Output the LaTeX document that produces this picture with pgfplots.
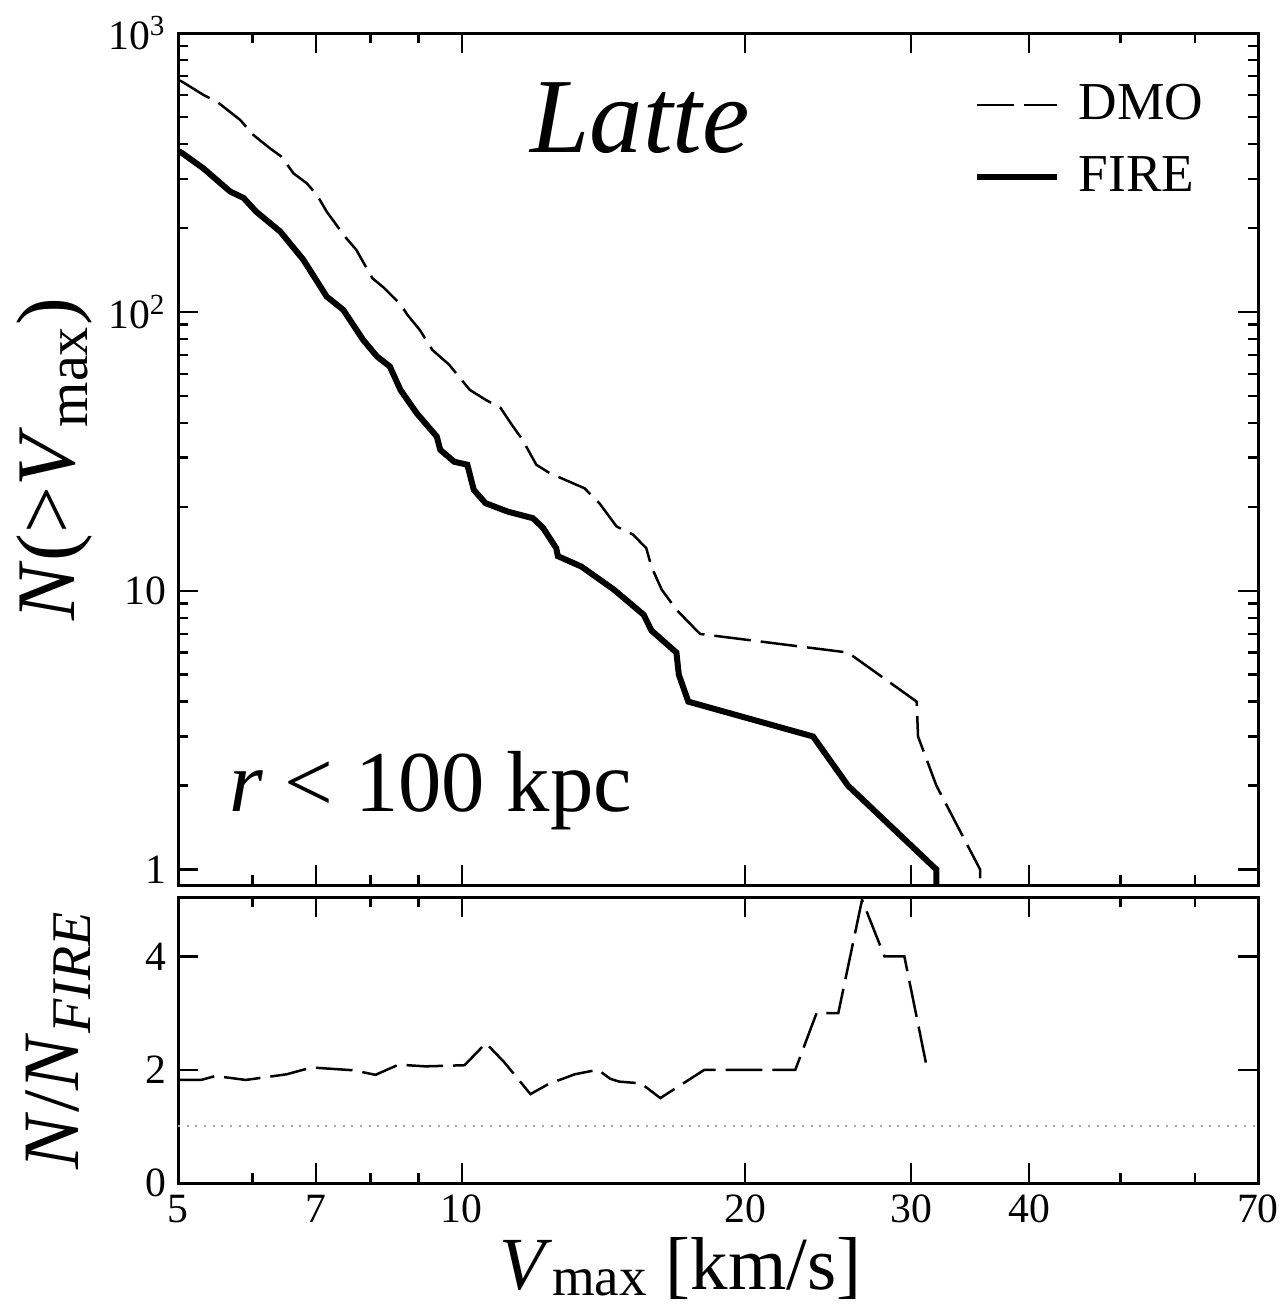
\documentclass[border=0pt]{standalone}
\usepackage{fontspec}
\setmainfont{Liberation Serif}
\usepackage{pgfplots}
\pgfplotsset{compat=1.18}
\begin{document}
\begin{tikzpicture}
\pgfplotsset{
  every axis/.append style={
    scale only axis,
    axis line style={line width=0.9pt},
    every tick/.style={black, line width=0.7pt},
    major tick length=6pt,
    minor tick length=3pt,
    tick align=inside,
    xtick pos=both, ytick pos=both,
    tick label style={font=\fontsize{12.5}{13}\selectfont},
    clip=true,
  },
}
\begin{axis}[
  name=top,
  width=324pt, height=255.6pt,
  xmode=log, ymode=log,
  xmin=5, xmax=70, ymin=0.88, ymax=1000,
  xtick={5,7,10,20,30,40,70},
  minor xtick={6,8,9,50,60},
  xticklabel=\empty,
  ytick={1,10,100,1000},
  yticklabels={1,10,10\textsuperscript{2},10\textsuperscript{3}},
  minor ytick={2,3,4,5,6,7,8,9,20,30,40,50,60,70,80,90,200,300,400,500,600,700,800,900},
  ylabel={\textit{N}(>\textit{V}\textsubscript{max})},
  every axis y label/.style={at={(axis description cs:-0.114,0.5)}, anchor=center, rotate=90, font=\fontsize{25}{25}\selectfont},
  legend style={draw=none, fill=none, at={(axis description cs:0.956,0.948)}, anchor=north east,
    font=\fontsize{16}{18}\selectfont, inner sep=0pt, row sep=5.5pt},
  legend cell align=left,
  legend image code/.code={\draw[#1] (0pt,0pt) -- (24pt,0pt); \path (27.5pt,0pt);},
]
\addplot[black, line width=0.75pt, dash pattern=on 11pt off 3pt] coordinates {
(5.0,680) (5.05,669) (5.32,600) (5.5,567) (5.82,488) (6.01,431) (6.26,386) (6.44,360)
(6.63,314) (6.85,289) (7.02,263) (7.19,229) (7.52,186) (7.73,167) (8.04,132) (8.27,122)
(8.62,106) (8.76,97.5) (9.03,86) (9.31,73) (9.7,64.6) (10.2,52.5) (10.6,48.4) (11.0,45.2)
(11.3,39.4) (11.6,34.8) (12.0,28.3) (12.4,26.4) (13.5,23.3) (14.0,20.6) (14.6,17.0)
(15.2,15.9) (15.7,14.2) (15.9,12.2) (16.3,10.1) (16.9,8.55) (17.9,7) (25.7,6)
(30.4,4) (30.5,3) (31.9,2) (35.5,1) (35.5,0.88)
};
\addlegendentry{DMO}
\addplot[black, line width=1.8pt] coordinates {
(5.0,378) (5.05,371) (5.32,327) (5.68,270) (5.87,256) (6.05,229) (6.42,194) (6.79,154)
(7.19,113.5) (7.49,101.6) (7.86,79.4) (8.13,69.2) (8.39,63.7) (8.61,52.5) (8.96,43.3)
(9.41,35.7) (9.49,32.0) (9.82,29.0) (10.14,28.3) (10.3,23.0) (10.6,20.6) (11.2,19.2)
(11.9,18.2) (12.2,16.8) (12.6,14.2) (12.65,13.3) (13.4,12.2) (14.5,10.1) (15.6,8.2)
(15.9,7.2) (16.9,6) (17.0,5) (17.4,4) (23.6,3) (25.7,2) (31.9,1) (31.9,0.88)
};
\addlegendentry{FIRE}
\node[font=\fontsize{32}{32}\selectfont\itshape] at (axis description cs:0.428,0.900) {Latte};
\node[font=\fontsize{26}{26}\selectfont] at (axis description cs:0.234,0.111) {\textit{r} < 100 kpc};
\end{axis}
\begin{axis}[
  at={(top.south west)}, anchor=north west, yshift=-3.6pt,
  width=324pt, height=85.8pt,
  xmode=log,
  xmin=5, xmax=70, ymin=0, ymax=5.05,
  xtick={5,7,10,20,30,40,70},
  xticklabels={5,7,10,20,30,40,70},
  minor xtick={6,8,9,50,60},
  ytick={0,2,4},
  yticklabels={0,2,4},
  xlabel={\textit{V}\raisebox{-0.08em}{\fontsize{16.5}{16.5}\selectfont max} [km/s]},
  ylabel={\textit{N}/\textit{N}\textsubscript{\textit{FIRE}}},
  every axis x label/.style={at={(axis description cs:0.465,-0.30)}, anchor=center, inner sep=0pt, font=\fontsize{22.5}{22.5}\selectfont},
  every axis y label/.style={at={(axis description cs:-0.111,0.5)}, anchor=center, rotate=90, font=\fontsize{24}{24}\selectfont},
]
\addplot[gray!70, dotted, line width=0.6pt] coordinates {(5,1) (70,1)};
\addplot[black, line width=0.75pt, dash pattern=on 11pt off 3pt] coordinates {
(5.0,1.82) (5.29,1.82) (5.48,1.89) (5.90,1.82) (6.52,1.92) (6.93,2.04) (7.69,1.99)
(8.10,1.91) (8.57,2.09) (9.15,2.06) (10.07,2.08) (10.61,2.47) (11.1,2.13) (11.83,1.57)
(12.4,1.76) (12.8,1.84) (13.18,1.92) (13.95,2.0) (14.38,1.84) (14.7,1.79) (15.5,1.76)
(16.25,1.5) (18.1,2.0) (22.6,2.0) (23.8,3.0) (25.1,3.0) (26.6,5.0) (28.1,4.0)
(29.5,4.0) (31.2,2.0)
};
\end{axis}
\pgfresetboundingbox
\path ([shift={(-53.4pt,9.9pt)}]top.north west) rectangle ([shift={(332.1pt,-381.9pt)}]top.north west);
\end{tikzpicture}
\end{document}
